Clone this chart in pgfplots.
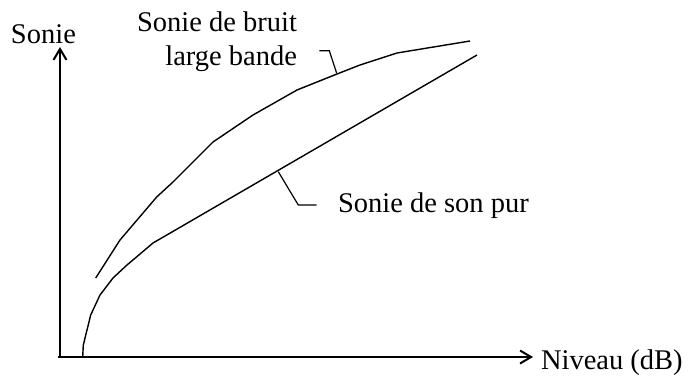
\documentclass[border=0pt]{standalone}
\usepackage{pgfplots}
\pgfplotsset{compat=1.18}
\usepackage{fontspec}
\setmainfont{Liberation Serif}
\usetikzlibrary{arrows.meta}
\tikzset{lab/.style={inner sep=0pt, outer sep=0pt, font=\fontsize{14.25pt}{16pt}\selectfont}}
\begin{document}
\begin{tikzpicture}
\begin{axis}[
  x=0.5pt, y=0.5pt,
  xmin=60, xmax=533, ymin=19, ymax=329,
  axis lines=left,
  xtick=\empty, ytick=\empty,
  axis line style={line width=1pt, -{Straight Barb[length=5.5pt,width=6.5pt]}},
  x axis line style={shorten <=-1pt},
  clip=false,
]
% pure tone loudness
\addplot[black, line width=0.7pt] coordinates {
 (82.7,19) (83.3,31) (90.7,61) (100,81) (113,98) (127,111) (153,133) (477,321)
};
% broadband noise loudness
\addplot[black, line width=0.7pt] coordinates {
 (95.7,98) (120,136) (156.7,179) (173,194) (213,234) (253,261) (297,286)
 (337,302) (360,311) (397,323) (470,335)
};
% leader lines
\addplot[black, line width=0.6pt] coordinates {(336.7,302.7) (329.3,325.3) (319.3,325.3)};
\addplot[black, line width=0.6pt] coordinates {(278.3,204.3) (298.3,171) (316.7,171)};
% labels
\node[lab, anchor=base west] at (axis cs:11,333) {Sonie};
\node[lab, anchor=base east] at (axis cs:297,345) {Sonie de bruit};
\node[lab, anchor=base east] at (axis cs:297,311) {large bande};
\node[lab, anchor=base west] at (axis cs:338,164) {Sonie de son pur};
\node[lab, anchor=base west] at (axis cs:541,7) {Niveau (dB)};
\coordinate (bl) at (axis cs:0,0);
\coordinate (tr) at (axis cs:688,376);
\end{axis}
\pgfresetboundingbox
\path[use as bounding box] (bl) rectangle (tr);
\end{tikzpicture}
\end{document}
